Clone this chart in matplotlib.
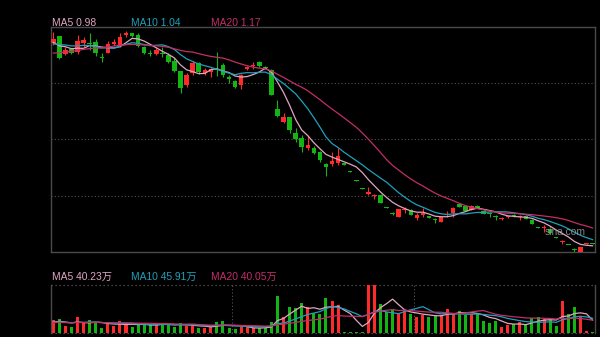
import matplotlib
matplotlib.use("Agg")
import matplotlib.pyplot as plt
import numpy as np

# ---------------- data ----------------
opens = [3.21, 3.28, 3.09, 3.14, 3.11, 3.21, 3.21, 3.22, 3.05, 3.10,
         3.20, 3.17, 3.30, 3.32, 3.30, 3.16, 3.10, 3.09, 3.10, 3.08,
         3.01, 2.90, 2.75, 2.88, 2.99, 2.88, 2.89, 2.92, 2.97, 2.83,
         2.79, 2.75, 2.92, 2.95, 3.00, 2.94, 2.91, 2.48, 2.34, 2.39,
         2.22, 2.16, 2.05, 2.05, 2.01, 1.88, 1.88, 1.89, 1.88, 1.80,
         1.70, 1.61, 1.55, 1.52, 1.54, 1.40, 1.34, 1.29, 1.37, 1.37,
         1.28, 1.32, 1.30, 1.27, 1.24, 1.31, 1.34, 1.44, 1.41, 1.37,
         1.41, 1.36, 1.34, 1.30, 1.27, 1.29, 1.31, 1.29, 1.30, 1.26,
         1.18, 1.17, 1.16, 1.07, 1.02, 0.99, 0.94, 0.91, 1.00, 1.01]
highs = [3.33, 3.28, 3.16, 3.15, 3.30, 3.27, 3.32, 3.25, 3.10, 3.23,
         3.25, 3.32, 3.34, 3.32, 3.32, 3.17, 3.13, 3.15, 3.16, 3.10,
         3.04, 2.90, 2.88, 3.01, 3.00, 2.93, 2.93, 3.11, 2.99, 2.86,
         2.80, 2.87, 2.95, 3.00, 3.01, 2.95, 2.92, 2.58, 2.44, 2.39,
         2.27, 2.20, 2.18, 2.07, 2.02, 1.89, 2.01, 2.05, 1.88, 1.80,
         1.70, 1.61, 1.62, 1.55, 1.55, 1.40, 1.35, 1.38, 1.40, 1.38,
         1.34, 1.39, 1.30, 1.28, 1.29, 1.36, 1.40, 1.44, 1.42, 1.43,
         1.42, 1.37, 1.35, 1.32, 1.29, 1.30, 1.33, 1.32, 1.31, 1.27,
         1.18, 1.21, 1.17, 1.07, 1.04, 0.99, 0.95, 0.96, 1.01, 1.01]
lows = [3.19, 3.03, 3.08, 3.09, 3.09, 3.16, 3.13, 3.06, 3.00, 3.10,
        3.17, 3.16, 3.27, 3.27, 3.16, 3.09, 3.06, 3.08, 3.05, 2.99,
        2.89, 2.66, 2.72, 2.86, 2.87, 2.86, 2.83, 2.84, 2.83, 2.77,
        2.71, 2.70, 2.91, 2.92, 2.94, 2.92, 2.63, 2.39, 2.33, 2.22,
        2.12, 2.01, 2.03, 1.99, 1.90, 1.74, 1.85, 1.87, 1.87, 1.79,
        1.69, 1.60, 1.54, 1.49, 1.45, 1.39, 1.32, 1.29, 1.34, 1.32,
        1.26, 1.29, 1.28, 1.23, 1.24, 1.29, 1.29, 1.40, 1.36, 1.37,
        1.39, 1.33, 1.29, 1.26, 1.26, 1.28, 1.29, 1.26, 1.27, 1.22,
        1.17, 1.13, 1.12, 1.06, 1.00, 0.98, 0.90, 0.91, 1.00, 1.00]
closes = [3.25, 3.04, 3.13, 3.10, 3.23, 3.24, 3.20, 3.10, 3.04, 3.20,
          3.22, 3.27, 3.32, 3.28, 3.17, 3.10, 3.09, 3.13, 3.09, 3.00,
          2.90, 2.71, 2.86, 2.99, 2.89, 2.91, 2.92, 2.91, 2.86, 2.81,
          2.72, 2.86, 2.94, 2.97, 2.95, 2.93, 2.64, 2.40, 2.39, 2.25,
          2.15, 2.06, 2.09, 2.00, 1.92, 1.84, 1.91, 1.96, 1.87, 1.79,
          1.69, 1.60, 1.57, 1.53, 1.45, 1.39, 1.33, 1.38, 1.38, 1.32,
          1.32, 1.33, 1.28, 1.26, 1.29, 1.32, 1.39, 1.40, 1.36, 1.41,
          1.39, 1.33, 1.33, 1.29, 1.28, 1.30, 1.30, 1.30, 1.27, 1.22,
          1.17, 1.18, 1.12, 1.06, 1.03, 0.98, 0.93, 0.96, 1.01, 1.00]
# closes of the 19 sessions before the window (only feed the moving averages)
prior_closes = [2.96, 2.98, 3.00, 2.97, 3.01, 3.03, 2.99, 3.02, 3.00, 2.98,
                3.12, 3.18, 3.20, 3.22, 3.19, 3.23, 3.18, 3.21, 3.20]

# volume, in 万
volumes = [39.0, 42.3, 21.5, 18.2, 48.8, 29.3, 39.0, 31.2, 15.0, 31.2,
           21.5, 35.8, 27.0, 18.2, 26.0, 26.0, 23.7, 26.0, 29.3, 26.0,
           18.2, 29.3, 21.5, 23.7, 15.0, 13.0, 18.2, 32.5, 36.7, 15.0,
           9.8, 18.2, 16.3, 15.0, 13.0, 13.0, 32.5, 119.0, 50.7, 83.2,
           78.0, 94.3, 83.2, 62.0, 58.5, 110.5, 102.7, 88.7, 2.3, 2.3,
           2.3, 2.3, 152.8, 153.7, 91.0, 67.0, 75.7, 61.8, 69.2, 58.5,
           50.7, 56.2, 50.7, 56.2, 56.2, 75.7, 61.8, 69.2, 56.2, 58.5,
           61.8, 38.0, 29.3, 38.0, 18.2, 23.7, 26.0, 32.5, 26.0, 47.0,
           50.7, 43.2, 40.0, 21.5, 102.7, 59.5, 83.2, 50.7, 5.2, 2.5]
prior_volumes = [30.0, 34.0, 31.0, 28.0, 33.0, 30.0, 32.0, 29.0, 35.0, 31.0,
                 30.0, 33.0, 30.0, 36.0, 32.0, 28.0, 34.0, 31.0, 35.0]

ma_windows = [5, 10, 20]
price_ma_text = ["0.98", "1.04", "1.17"]
volume_ma_text = ["40.23万", "45.91万", "40.05万"]
month_start_idx = [30, 60]

# ---------------- style ----------------
BG = "#000000"
UP = "#ff2a2a"
DOWN = "#13b513"
MA_COLORS = ["#e0a6c0", "#1fa0bc", "#c22e68"]
FRAME = "#4a4a4a"
GRID = "#5a5a5a"
FONT = ["Liberation Sans", "Noto Sans CJK SC", "DejaVu Sans"]

W, H = 600, 337
fig = plt.figure(figsize=(W / 100, H / 100), dpi=100, facecolor=BG)


def px_axes(l, t, r, b):
    return fig.add_axes([l / W, 1 - b / H, (r - l) / W, (b - t) / H])


ax = px_axes(51, 27, 595, 252)
axv = px_axes(51, 285, 595, 332.5)

n = len(closes)
x = np.arange(n)
o = np.array(opens)
c = np.array(closes)
hi = np.array(highs)
lo = np.array(lows)
up = c >= o
colors = np.where(up, UP, DOWN)


def sma(vals, prior, w):
    full = np.array(list(prior) + list(vals), dtype=float)
    out = np.convolve(full, np.ones(w) / w, mode="valid")
    return out[-len(vals):]


xlim = (-0.38, 89.4)
ylim = (0.908, 3.383)

for a in (ax, axv):
    a.set_facecolor(BG)
    a.set_xticks([])
    a.set_yticks([])
    a.set_xlim(*xlim)

# ---- price panel ----
ax.set_ylim(*ylim)
for k in range(1, 4):
    yv = ylim[0] + (ylim[1] - ylim[0]) * k / 4
    ax.axhline(yv, color=GRID, lw=0.75, ls=(0, (1, 2.2)), zorder=0)

ax.vlines(x, lo, hi, colors=colors, lw=0.8, zorder=2)
body_h = np.maximum(np.abs(c - o), 0.012)
body_b = np.minimum(o, c)
ax.bar(x, body_h, bottom=body_b, width=0.74, color=colors, lw=0, zorder=3)

for w, col in zip(ma_windows, MA_COLORS):
    ax.plot(x, sma(closes, prior_closes, w), color=col, lw=0.9, zorder=4)

for s in ax.spines.values():
    s.set_color(FRAME)
    s.set_linewidth(1.0)

ax.text(0.908, 0.088, "sina.com", transform=ax.transAxes, color="#9a9a9a",
        alpha=0.85, fontsize=7.4, family=FONT, ha="left", va="center", zorder=6)

# ---- volume panel ----
vmax = max(volumes)
axv.set_ylim(0, vmax)
axv.bar(x, volumes, width=0.5, color=colors, lw=0, zorder=2)
for w, col in zip(ma_windows, MA_COLORS):
    axv.plot(x, sma(volumes, prior_volumes, w), color=col, lw=0.9, zorder=3)
for m in month_start_idx:
    axv.axvline(m - 0.5, color=GRID, lw=0.75, ls=(0, (1, 2.2)), zorder=1)
for side in ("left", "right"):
    axv.spines[side].set_color(FRAME)
    axv.spines[side].set_linewidth(1.0)
for side in ("top", "bottom"):
    axv.spines[side].set_visible(False)
for yy in (0, 1):
    axv.plot([0, 1], [yy, yy], transform=axv.transAxes, color=GRID, lw=0.9,
             ls=(0, (1, 2.2)), clip_on=False, zorder=1)

# ---- legends ----
label_x = [52, 131, 211]
for lx, w, col, txt in zip(label_x, ma_windows, MA_COLORS, price_ma_text):
    fig.text(lx / W, 1 - 22.8 / H, f"MA{w} {txt}", color=col, fontsize=7.4,
             family=FONT, ha="left", va="center")
for lx, w, col, txt in zip(label_x, ma_windows, MA_COLORS, volume_ma_text):
    fig.text(lx / W, 1 - 276.8 / H, f"MA{w} {txt}", color=col, fontsize=7.4,
             family=FONT, ha="left", va="center")

fig.savefig("out.png", dpi=100, facecolor=BG)
